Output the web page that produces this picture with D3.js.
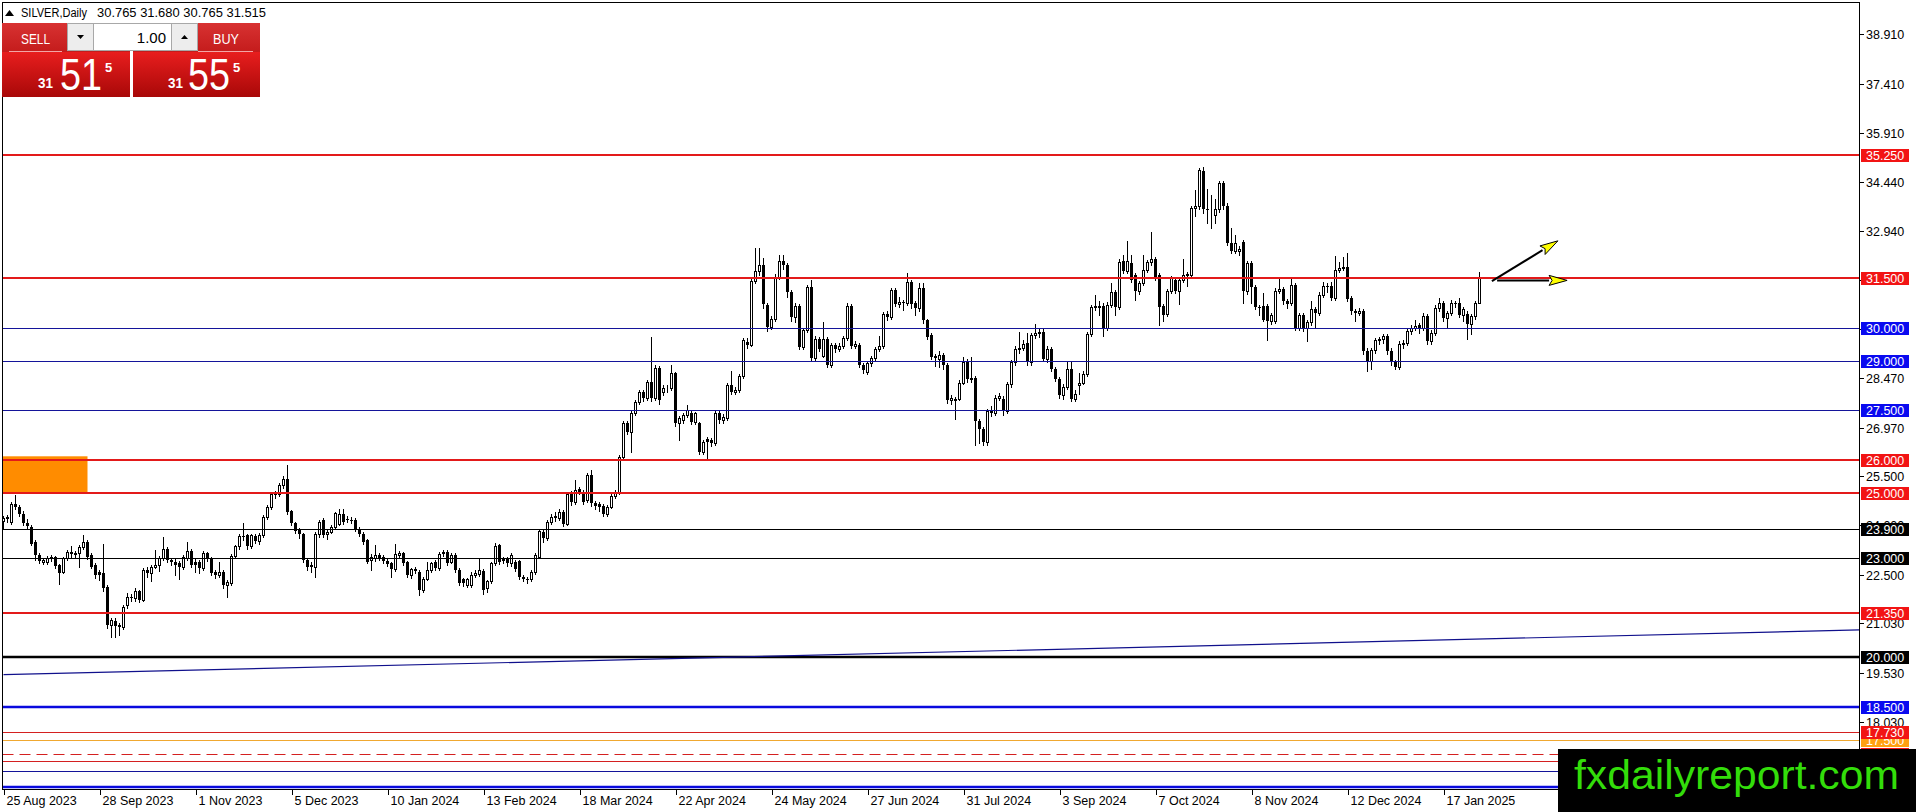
<!DOCTYPE html>
<html><head><meta charset="utf-8">
<script src="https://cdn.jsdelivr.net/npm/d3@7"></script>
<style>html,body{margin:0;padding:0;background:#fff;overflow:hidden}svg{display:block}</style>
</head><body>
<svg id="c" width="1916" height="812"></svg>
<script>
// ---------------- DATA ----------------
const dateLabels = ["25 Aug 2023","28 Sep 2023","1 Nov 2023","5 Dec 2023","10 Jan 2024","13 Feb 2024","18 Mar 2024","22 Apr 2024","24 May 2024","27 Jun 2024","31 Jul 2024","3 Sep 2024","7 Oct 2024","8 Nov 2024","12 Dec 2024","17 Jan 2025"];
const barsPerLabel = 24;

const opens = [
24.14,24.22,24.11,24.65,24.55,24.36,24.08,23.96,23.50,23.10,
22.90,22.88,23.00,23.03,22.80,22.60,23.00,23.18,23.12,23.15,
23.35,23.51,23.10,22.80,22.60,22.55,22.14,20.98,21.10,20.98,
20.93,21.59,21.84,21.79,22.00,21.74,22.65,22.55,22.75,22.80,
23.00,23.30,22.95,22.90,22.85,22.75,23.00,23.23,22.90,22.90,
22.70,23.15,23.00,22.60,22.49,22.60,22.19,22.24,23.07,23.37,
23.68,23.70,23.37,23.68,23.52,23.70,24.26,24.56,24.97,24.97,
25.22,25.42,24.43,24.08,23.86,23.74,22.95,22.80,22.73,23.74,
24.16,23.74,23.81,23.96,24.06,24.36,24.21,24.18,24.18,23.90,
23.74,23.56,22.95,23.00,23.10,23.05,22.92,22.85,22.67,23.10,
23.15,22.88,22.49,22.64,22.59,22.04,22.39,22.64,22.88,22.71,
23.15,23.20,22.90,23.10,22.64,22.37,22.19,22.19,22.51,22.54,
22.62,22.09,22.31,22.85,23.40,23.00,23.00,22.85,22.90,22.92,
22.44,22.39,22.39,22.59,23.05,23.81,23.61,24.11,24.26,24.23,
24.42,24.06,24.97,24.72,25.10,25.02,24.77,25.53,24.67,24.65,
24.60,24.36,24.57,24.90,25.00,26.09,27.10,26.84,27.40,27.75,
28.06,27.86,28.36,27.86,28.79,28.06,28.16,28.16,28.62,27.10,
27.20,27.35,27.40,27.15,27.10,26.24,26.64,26.59,26.49,27.40,
27.20,27.25,28.26,28.06,28.11,28.54,29.57,29.49,31.42,31.72,
31.91,30.69,30.03,30.28,31.55,32.03,31.91,31.09,30.33,30.67,
29.42,29.93,31.25,29.07,29.66,29.15,29.66,28.87,29.47,29.37,
29.45,29.68,30.67,29.45,29.47,28.87,28.66,28.92,29.07,29.37,
29.45,30.41,30.33,31.15,30.71,30.77,30.74,31.38,30.74,30.59,
31.20,30.23,29.78,29.15,29.05,29.19,28.87,27.80,27.80,27.85,
28.34,28.95,28.44,28.48,27.16,26.92,26.54,27.47,27.40,27.87,
27.85,27.47,28.28,28.95,29.37,29.40,29.55,28.95,29.78,29.83,
29.88,29.05,29.35,28.76,28.46,27.95,28.21,28.74,27.85,28.26,
28.34,28.61,29.80,30.64,30.64,30.67,29.98,30.69,31.09,30.64,
32.03,31.73,31.96,31.59,31.11,31.36,31.76,31.99,32.09,31.59,
30.66,30.42,31.11,31.46,31.13,31.46,31.59,31.61,33.64,33.70,
34.75,33.60,33.60,33.42,33.60,34.40,33.70,32.57,32.33,32.33,
32.60,31.11,31.96,31.23,30.63,30.66,30.66,30.20,30.20,31.13,
31.19,30.81,30.76,31.29,30.00,30.38,30.00,30.18,30.56,30.45,
31.01,31.26,31.26,30.91,31.76,31.83,31.86,30.91,30.51,30.45,
30.51,29.30,29.00,29.32,29.62,29.65,29.75,29.30,28.95,28.80,
29.52,29.55,29.90,30.00,30.08,30.00,30.35,29.60,29.85,30.61,
30.76,30.30,30.45,30.76,30.76,30.40,30.42,30.12,30.35,30.765];

const highs = [
24.30,24.33,24.72,24.92,24.62,24.45,24.20,24.00,23.55,23.15,
23.02,23.07,23.10,23.08,22.84,23.05,23.27,23.37,23.22,23.40,
23.71,23.56,23.15,22.85,22.65,23.45,22.18,21.20,21.18,21.05,
21.60,21.95,21.93,22.10,22.05,22.70,22.75,22.80,23.25,23.07,
23.64,23.36,23.02,22.98,22.92,23.10,23.51,23.28,22.98,22.96,
23.22,23.20,23.05,22.65,22.90,22.65,22.35,23.12,23.42,23.75,
24.08,23.75,23.75,23.74,23.76,24.32,24.62,25.03,25.05,25.28,
25.50,25.83,24.48,24.12,23.92,23.78,23.00,22.88,23.80,24.18,
24.22,23.90,24.02,24.42,24.51,24.51,24.28,24.25,24.22,23.95,
23.80,23.60,23.12,23.42,23.16,23.10,22.98,22.90,23.45,23.22,
23.20,22.92,22.72,22.75,22.64,22.44,22.90,22.90,22.95,23.18,
23.27,23.25,23.15,23.16,22.70,22.42,22.42,22.58,22.64,23.00,
22.68,22.36,22.90,23.48,23.45,23.05,23.05,23.15,22.95,22.96,
22.50,22.44,22.64,23.15,23.90,23.88,24.18,24.35,24.40,24.50,
24.48,25.03,25.05,25.38,25.16,25.08,25.60,25.68,24.75,24.70,
24.66,24.62,24.96,25.08,26.15,27.18,27.16,27.46,27.82,28.12,
28.12,28.42,29.73,28.86,28.85,28.25,28.25,28.87,28.66,27.32,
27.42,27.65,27.46,27.45,27.15,26.60,26.70,26.65,27.46,27.46,
27.38,28.32,28.69,28.20,28.60,29.70,29.68,31.48,32.41,32.41,
32.11,30.75,30.35,31.62,32.21,32.21,31.96,31.15,30.75,30.72,
30.00,31.30,31.45,29.75,29.72,30.18,29.72,29.55,29.55,29.53,
29.75,30.75,30.72,29.60,29.55,28.92,28.98,29.13,29.42,29.75,
30.48,30.50,31.20,31.22,30.95,30.85,31.65,31.45,30.80,31.35,
31.35,30.28,29.85,29.22,29.30,29.25,28.92,27.95,27.90,28.42,
29.10,29.05,29.12,28.55,27.24,27.00,27.55,27.62,27.95,28.02,
27.92,28.35,29.02,29.45,29.88,29.62,29.83,29.85,30.13,29.98,
30.00,29.45,29.42,28.82,28.52,28.28,28.95,28.95,28.10,28.62,
28.68,29.88,30.70,31.01,30.80,30.75,30.78,31.35,31.15,32.10,
32.21,32.64,32.21,31.65,31.42,32.21,32.05,32.90,32.16,31.65,
30.72,31.18,31.58,31.52,31.52,32.09,31.70,33.70,34.17,34.85,
34.87,34.20,34.02,33.92,34.47,34.47,33.78,33.04,32.82,32.48,
32.68,32.04,32.02,31.30,30.70,31.06,30.72,30.45,31.20,31.51,
31.25,30.88,31.51,31.36,30.45,30.45,30.25,30.81,30.62,31.08,
31.39,31.36,31.39,32.19,32.00,32.16,32.26,30.98,30.58,30.60,
30.58,29.38,29.40,29.70,29.72,29.82,29.82,29.38,29.02,29.60,
29.62,29.98,30.08,30.25,30.15,30.45,30.42,29.92,30.68,30.91,
30.82,30.52,30.85,30.82,30.92,30.62,30.50,30.42,30.82,31.68];

const lows = [
23.92,24.12,24.06,24.50,24.30,24.02,23.90,23.40,22.95,22.85,
22.82,22.84,22.93,22.72,22.22,22.55,22.95,23.05,23.05,22.75,
23.30,22.98,22.70,22.42,22.35,22.02,20.90,20.63,20.63,20.68,
20.85,21.50,21.70,21.72,21.68,21.70,22.45,22.30,22.70,22.63,
22.95,22.90,22.80,22.49,22.39,22.68,22.95,22.74,22.60,22.55,
22.65,22.92,22.50,22.40,22.44,22.10,21.84,22.20,23.00,23.30,
23.55,23.30,23.32,23.48,23.45,23.65,24.20,24.50,24.82,24.90,
25.15,24.35,24.00,23.78,23.62,22.90,22.65,22.60,22.45,23.65,
23.65,23.60,23.76,23.90,24.00,24.05,24.10,24.08,23.82,23.68,
23.45,22.85,22.65,22.92,22.96,22.86,22.76,22.44,22.62,23.02,
22.80,22.44,22.42,22.55,21.88,21.98,22.34,22.58,22.65,22.66,
23.08,22.80,22.85,22.58,22.18,22.15,22.12,22.14,22.45,22.48,
21.91,21.98,22.26,22.80,22.82,22.85,22.78,22.78,22.62,22.38,
22.30,22.25,22.32,22.54,23.00,23.50,23.55,24.05,24.15,24.16,
23.98,24.00,24.62,24.66,24.95,24.66,24.70,24.60,24.50,24.45,
24.30,24.30,24.52,24.84,24.95,26.02,26.78,26.24,27.35,27.70,
27.78,27.80,27.78,27.80,27.70,27.95,28.05,28.10,27.02,26.59,
27.12,27.28,27.08,27.08,26.18,26.18,25.98,26.40,26.44,27.12,
27.12,27.20,28.00,27.98,28.05,28.48,29.40,29.44,31.35,31.60,
30.60,29.90,29.95,30.20,31.48,31.80,30.95,30.20,30.18,29.35,
29.35,29.88,29.00,29.00,29.30,29.10,28.80,28.80,29.28,29.30,
29.40,29.62,29.38,29.38,28.80,28.62,28.60,28.85,29.00,29.30,
29.40,30.25,30.28,30.65,30.62,30.55,30.68,30.60,30.40,30.52,
30.15,29.65,29.05,28.85,28.80,28.75,27.72,27.70,27.24,27.80,
28.28,28.36,28.36,26.43,26.50,26.43,26.45,27.32,27.35,27.80,
27.35,27.40,28.20,28.88,29.25,29.32,28.88,28.88,29.70,29.72,
28.98,28.95,28.70,28.40,27.88,27.85,28.15,27.78,27.78,28.00,
28.28,28.55,29.75,30.55,30.40,29.75,29.92,30.62,30.40,30.58,
31.66,31.66,31.40,30.83,31.02,31.30,31.70,31.92,31.46,30.10,
30.20,30.35,31.05,31.06,30.73,31.40,31.26,31.55,33.40,33.60,
33.50,33.17,33.02,33.17,33.52,33.62,32.50,32.26,32.26,32.20,
30.76,31.02,30.76,30.56,30.40,30.20,29.62,30.12,30.15,31.06,
30.73,30.60,30.70,29.92,29.92,29.90,29.60,30.10,30.00,30.40,
30.95,31.10,30.85,30.85,31.70,31.75,30.80,30.42,30.20,30.38,
29.22,28.70,28.75,29.25,29.50,29.55,29.22,28.88,28.75,28.75,
29.40,29.48,29.82,29.92,29.85,29.92,29.52,29.50,29.78,30.52,
30.22,30.00,30.38,30.62,30.32,30.20,29.65,29.82,30.28,30.765];

const closes = [
24.22,24.26,24.65,24.55,24.36,24.08,23.98,23.45,23.10,22.92,
22.96,23.00,23.04,22.77,22.57,23.00,23.20,23.12,23.15,23.35,
23.51,23.03,22.75,22.49,22.49,22.09,20.98,21.13,20.95,20.93,
21.54,21.84,21.80,22.02,21.74,22.65,22.55,22.75,22.80,23.00,
23.30,22.95,22.90,22.80,22.75,23.05,23.23,22.80,22.80,22.70,
23.15,23.00,22.57,22.49,22.60,22.19,22.29,23.07,23.37,23.68,
23.64,23.37,23.70,23.54,23.70,24.26,24.56,24.97,24.92,25.22,
25.42,24.41,24.08,23.84,23.74,22.95,22.75,22.73,23.74,24.11,
23.71,23.81,23.96,24.38,24.36,24.11,24.18,24.16,23.88,23.74,
23.51,22.90,23.05,23.10,23.02,22.92,22.82,22.67,23.12,23.15,
22.85,22.49,22.67,22.69,22.04,22.39,22.64,22.85,22.71,23.12,
23.20,22.85,23.10,22.64,22.24,22.24,22.37,22.51,22.57,22.64,
22.04,22.31,22.85,23.38,22.88,22.92,22.85,23.10,22.69,22.44,
22.39,22.34,22.59,23.10,23.83,23.61,24.11,24.26,24.29,24.42,
24.06,24.97,24.70,25.07,25.02,24.72,25.53,24.67,24.60,24.57,
24.36,24.57,24.90,25.00,26.09,27.10,26.84,27.40,27.75,28.06,
27.86,28.36,27.86,28.79,27.81,28.18,28.18,28.62,27.10,27.25,
27.35,27.50,27.15,27.40,26.24,26.54,26.54,26.49,27.40,27.20,
27.30,28.26,28.06,28.11,28.54,29.63,29.49,31.42,31.72,31.91,
30.71,30.03,30.26,31.55,32.03,31.91,31.09,30.33,30.67,29.42,
29.93,31.25,29.07,29.66,29.37,29.66,28.87,29.47,29.37,29.45,
29.68,30.67,29.45,29.52,28.87,28.71,28.92,29.07,29.37,29.45,
30.41,30.33,31.15,30.71,30.77,30.74,31.38,30.71,30.59,31.20,
30.23,29.73,29.12,29.07,29.19,28.87,27.80,27.87,27.83,28.34,
28.95,28.44,28.48,27.16,26.92,26.54,27.47,27.40,27.87,27.93,
27.47,28.28,28.95,29.37,29.40,29.52,28.95,29.78,29.83,29.88,
29.05,29.37,28.76,28.46,27.95,28.21,28.74,27.85,28.00,28.34,
28.61,29.80,30.64,30.67,30.67,29.98,30.69,31.09,30.64,32.01,
31.73,32.03,31.46,31.11,31.36,31.76,31.99,32.09,31.53,30.63,
30.40,31.11,31.51,31.13,31.46,31.61,31.63,33.64,33.70,34.78,
33.60,33.58,33.62,33.60,34.40,33.70,32.57,32.33,32.57,32.39,
31.11,31.96,31.23,30.63,30.61,30.25,30.20,30.40,31.13,31.19,
30.81,30.73,31.29,30.00,30.38,30.00,30.18,30.56,30.45,31.01,
31.26,31.23,30.91,31.76,31.83,31.86,30.86,30.51,30.45,30.51,
29.30,29.00,29.32,29.62,29.65,29.75,29.30,28.95,28.80,29.52,
29.55,29.90,30.00,30.05,30.00,30.35,29.60,29.85,30.61,30.76,
30.30,30.45,30.76,30.71,30.40,30.56,30.12,30.35,30.76,31.515];

const priceTicks = [38.91,37.41,35.91,34.44,32.94,31.44,29.97,28.47,26.97,25.50,24.00,22.50,21.03,19.53,18.03,16.53];

const levelPrices = [35.25,31.5,30,29,27.5,26,25,23.9,23,21.35,20,18.5,17.73,17.5,17.07,16.86,16.55,16.07];
const levelKinds  = ["redBold","redBold","navy","navy","navy","redBold","redBold","black","black","redBold","blackBold","blueBold","redThin","orange","redDash","redThin","navy","blueBold"];

const trendBars = [0, 464];
const trendPrices = [19.47, 20.83];

const boxBars = [-1, 21];
const boxPrices = [26.1, 25.0];

const arrowStartBars = [372.1, 373.4];
const arrowStartPrices = [31.42, 31.44];
const arrowEndBars = [388.6, 390.9];
const arrowEndPrices = [32.64, 31.44];

const symbolName = "SILVER,Daily";
const ohlcText = "30.765 31.680 30.765 31.515";
const lotText = "1.00";
const sellPrice = ["31","51","5"];
const buyPrice = ["31","55","5"];
const watermark = "fxdailyreport.com";

// ---------------- STYLES ----------------
const kindStyle = {
  redBold:  {stroke:"#e31a1a", w:2, label:"#f21414"},
  navy:     {stroke:"#14149a", w:1, label:"#0a0af0"},
  black:    {stroke:"#000000", w:1, label:"#000000"},
  blackBold:{stroke:"#000000", w:2.5, label:"#000000"},
  blueBold: {stroke:"#0a0ade", w:2.5, label:"#0a0af0"},
  redThin:  {stroke:"#d42020", w:1, label:"#f21414"},
  orange:   {stroke:"#f0a830", w:1, label:"#ffa010"},
  redDash:  {stroke:"#d42020", w:1, dash:"11,6", label:"#f21414"}
};
const FONT = "'Liberation Sans', Arial, sans-serif";

// ---------------- SCALES ----------------
const svg = d3.select("#c");
const plotL = 2.5, plotT = 2.5, plotR = 1859.5, plotB = 789.5;
const x = d3.scaleLinear().domain([0, 464]).range([3.5, 1859.5]);
const y = d3.scaleLinear().domain([15.91, 39.89]).range([792, 2]);
const N = Math.min(opens.length, highs.length, lows.length, closes.length);

svg.append("rect").attr("width",1916).attr("height",812).attr("fill","#fff");
const defs = svg.append("defs");
defs.append("clipPath").attr("id","plot").append("rect")
  .attr("x",plotL).attr("y",plotT).attr("width",plotR-plotL).attr("height",plotB-plotT);

// ---------------- CANDLES ----------------
const cg = svg.append("g").attr("clip-path","url(#plot)").attr("shape-rendering","crispEdges");
const bars = d3.range(N).map(i => ({i, o:opens[i], h:highs[i], l:lows[i], c:closes[i]}));
cg.selectAll("line.w").data(bars).join("line").attr("class","w")
  .attr("x1",d=>x(d.i)).attr("x2",d=>x(d.i))
  .attr("y1",d=>Math.round(y(d.h))).attr("y2",d=>Math.round(y(d.l))+1)
  .attr("stroke","#000").attr("stroke-width",1);
cg.selectAll("rect.b").data(bars).join("rect").attr("class","b")
  .each(function(d){
    const s = d3.select(this);
    const yo = Math.round(y(d.o)), yc = Math.round(y(d.c));
    if (d.c >= d.o) {
      s.attr("x", x(d.i)-1).attr("y", yc+0.5).attr("width",2).attr("height",Math.max(yo-yc,0))
       .attr("fill","#fff").attr("stroke","#000").attr("stroke-width",1);
    } else {
      s.attr("x", x(d.i)-1.5).attr("y", yo).attr("width",3).attr("height",Math.max(yc-yo,1))
       .attr("fill","#000");
    }
  });

// ---------------- OBJECTS ----------------
const og = svg.append("g").attr("clip-path","url(#plot)");
og.append("rect")
  .attr("x", x(boxBars[0])).attr("y", y(boxPrices[0]))
  .attr("width", x(boxBars[1]) - x(boxBars[0])).attr("height", y(boxPrices[1]) - y(boxPrices[0]))
  .attr("fill","#ff8c00");

const levels = levelPrices.map((p,k)=>({p, s:kindStyle[levelKinds[k]]}));
og.selectAll("line.lv").data(levels).join("line").attr("class","lv")
  .attr("x1",plotL).attr("x2",plotR)
  .attr("y1",d=>Math.round(y(d.p))+ (d.s.w%2===1?0.5:0)).attr("y2",d=>Math.round(y(d.p))+(d.s.w%2===1?0.5:0))
  .attr("stroke",d=>d.s.stroke).attr("stroke-width",d=>d.s.w)
  .attr("stroke-dasharray",d=>d.s.dash||null);

og.append("path")
  .datum(trendBars.map((b,k)=>[b, trendPrices[k]]))
  .attr("d", d3.line().x(d=>x(d[0])).y(d=>y(d[1])))
  .attr("fill","none").attr("stroke","#10108c").attr("stroke-width",1.2);

// arrows
const ag = svg.append("g");
arrowStartBars.forEach((b,k)=>{
  const x1 = x(b), y1 = y(arrowStartPrices[k]), x2 = x(arrowEndBars[k]), y2 = y(arrowEndPrices[k]);
  const ang = Math.atan2(y2-y1, x2-x1), L = 18, Wd = 5;
  const bx = x2 - L*Math.cos(ang), by = y2 - L*Math.sin(ang);
  ag.append("line").attr("x1",x1).attr("y1",y1).attr("x2",bx).attr("y2",by)
    .attr("stroke","#000").attr("stroke-width",2);
  const px = -Math.sin(ang)*Wd, py = Math.cos(ang)*Wd;
  ag.append("polygon")
    .attr("points", [[x2,y2],[bx+px,by+py],[bx+3*Math.cos(ang),by+3*Math.sin(ang)],[bx-px,by-py]].map(p=>p.join(",")).join(" "))
    .attr("fill","#ffff00").attr("stroke","#000").attr("stroke-width",1);
});

// ---------------- FRAME & AXES ----------------
const fg = svg.append("g").attr("shape-rendering","crispEdges");
fg.append("rect").attr("x",plotL).attr("y",plotT).attr("width",plotR-plotL).attr("height",plotB-plotT)
  .attr("fill","none").attr("stroke","#000").attr("stroke-width",1);

// price ticks
fg.selectAll("line.pt").data(priceTicks).join("line").attr("class","pt")
  .attr("x1",plotR).attr("x2",plotR+4)
  .attr("y1",d=>Math.round(y(d))+0.5).attr("y2",d=>Math.round(y(d))+0.5)
  .attr("stroke","#000");
svg.append("g").selectAll("text").data(priceTicks).join("text")
  .attr("x",1866).attr("y",d=>Math.round(y(d))+4.5)
  .attr("font-family",FONT).attr("font-size",12.5).attr("fill","#000")
  .text(d=>d3.format(".3f")(d));

// level labels (lower prices first so upper ones overlap)
const lblOrder = levels.slice().sort((a,b)=>a.p-b.p);
const lg = svg.append("g");
lblOrder.forEach(d=>{
  const yy = Math.round(y(d.p));
  lg.append("rect").attr("x",1861).attr("y",yy-6).attr("width",48).attr("height",13)
    .attr("fill",d.s.label).attr("shape-rendering","crispEdges");
  lg.append("text").attr("x",1866).attr("y",yy+4.5)
    .attr("font-family",FONT).attr("font-size",12.5).attr("fill","#fff")
    .text(d3.format(".3f")(d.p));
});

// date axis
const dg = svg.append("g");
dateLabels.forEach((t,k)=>{
  const xx = Math.round(x(k*barsPerLabel)) + 0.5;
  dg.append("line").attr("x1",xx).attr("x2",xx).attr("y1",plotB).attr("y2",plotB+5)
    .attr("stroke","#000").attr("shape-rendering","crispEdges");
  dg.append("text").attr("x",xx+2).attr("y",805)
    .attr("font-family",FONT).attr("font-size",12.5).attr("fill","#000").text(t);
});

// ---------------- TITLE ----------------
svg.append("polygon").attr("points","5,16 14,16 9.5,10").attr("fill","#000");
svg.append("text").attr("x",21).attr("y",17).attr("font-family",FONT).attr("font-size",12)
  .attr("textLength",66).attr("lengthAdjust","spacingAndGlyphs").text(symbolName);
svg.append("text").attr("x",97).attr("y",17).attr("font-family",FONT).attr("font-size",12)
  .attr("textLength",169).attr("lengthAdjust","spacingAndGlyphs").text(ohlcText);

// ---------------- TRADE PANEL ----------------
const g1 = defs.append("linearGradient").attr("id","bigRed").attr("x1",0).attr("y1",0).attr("x2",0).attr("y2",1);
g1.append("stop").attr("offset","0%").attr("stop-color","#e81e1e");
g1.append("stop").attr("offset","100%").attr("stop-color","#a80808");
const g2 = defs.append("linearGradient").attr("id","topRed").attr("x1",0).attr("y1",0).attr("x2",0).attr("y2",1);
g2.append("stop").attr("offset","0%").attr("stop-color","#d83232");
g2.append("stop").attr("offset","100%").attr("stop-color","#c41c1c");
const pg = svg.append("g").attr("shape-rendering","crispEdges");
[[2,128],[133,127]].forEach(([bx,bw])=>{
  pg.append("rect").attr("x",bx).attr("y",23).attr("width",bw).attr("height",29).attr("fill","url(#topRed)");
  pg.append("rect").attr("x",bx).attr("y",52).attr("width",bw).attr("height",45).attr("fill","url(#bigRed)");
});
// button underlines
pg.append("rect").attr("x",9).attr("y",51).attr("width",53).attr("height",1).attr("fill","#f2a6a6");
pg.append("rect").attr("x",198).attr("y",51).attr("width",55).attr("height",1).attr("fill","#f2a6a6");
// lot control
pg.append("rect").attr("x",67.5).attr("y",23.5).attr("width",26).attr("height",27).attr("fill","#ededed").attr("stroke","#a8a8a8");
pg.append("rect").attr("x",93.5).attr("y",23.5).attr("width",78).attr("height",27).attr("fill","#fff").attr("stroke","#a8a8a8");
pg.append("rect").attr("x",171.5).attr("y",23.5).attr("width",26).attr("height",27).attr("fill","#ededed").attr("stroke","#a8a8a8");
svg.append("polygon").attr("points","77,35 84,35 80.5,39").attr("fill","#000");
svg.append("polygon").attr("points","181,39 188,39 184.5,35").attr("fill","#000");
svg.append("text").attr("x",166).attr("y",43).attr("text-anchor","end").attr("font-family",FONT)
  .attr("font-size",15).attr("fill","#000").text(lotText);
svg.append("text").attr("x",21).attr("y",44).attr("font-family",FONT).attr("font-size",15.5)
  .attr("fill","#fff").attr("textLength",29).attr("lengthAdjust","spacingAndGlyphs").text("SELL");
svg.append("text").attr("x",213).attr("y",44).attr("font-family",FONT).attr("font-size",15.5)
  .attr("fill","#fff").attr("textLength",26).attr("lengthAdjust","spacingAndGlyphs").text("BUY");
[[38,60,105,sellPrice],[168,188,233,buyPrice]].forEach(([a,b,c,pr])=>{
  svg.append("text").attr("x",a).attr("y",88).attr("font-family",FONT).attr("font-size",14).attr("font-weight","bold")
    .attr("fill","#fff").attr("textLength",15).attr("lengthAdjust","spacingAndGlyphs").text(pr[0]);
  svg.append("text").attr("x",b).attr("y",90).attr("font-family",FONT).attr("font-size",44)
    .attr("fill","#fff").attr("textLength",42).attr("lengthAdjust","spacingAndGlyphs").text(pr[1]);
  svg.append("text").attr("x",c).attr("y",72).attr("font-family",FONT).attr("font-size",13).attr("font-weight","bold")
    .attr("fill","#fff").text(pr[2]);
});

// ---------------- WATERMARK ----------------
svg.append("rect").attr("x",1558).attr("y",749).attr("width",358).attr("height",63).attr("fill","#000");
svg.append("text").attr("x",1574).attr("y",789).attr("font-family",FONT).attr("font-size",40)
  .attr("fill","#33dd0a").attr("textLength",325).attr("lengthAdjust","spacingAndGlyphs").text(watermark);
</script>
</body></html>
